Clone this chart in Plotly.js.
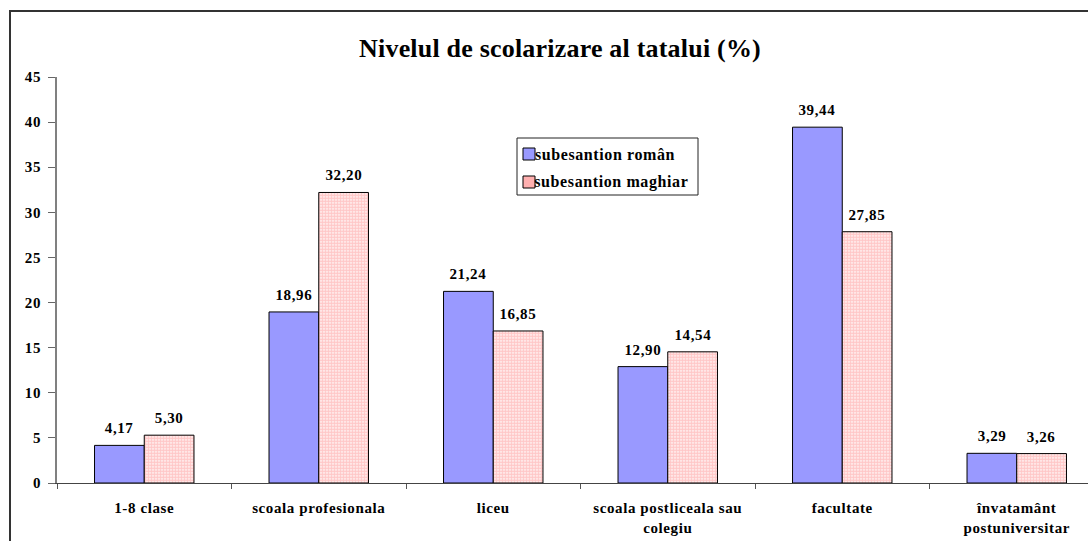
<!DOCTYPE html>
<html>
<head>
<meta charset="utf-8">
<script src="https://cdn.plot.ly/plotly-3.0.1.min.js"></script>
<style>
html,body{margin:0;padding:0;overflow:hidden;background:#fff;width:1088px;height:541px;}
#chart{width:1120px;height:541px;}
#chart text{letter-spacing:0.6px;}
#chart .gtitle{letter-spacing:0.2px;}
</style>
</head>
<body>
<div id="chart"></div>
<script>
var categories = ["1-8 clase", "scoala profesionala", "liceu", "scoala postliceala sau<br>colegiu", "facultate", "învatamânt<br>postuniversitar"];
var roman = [4.17, 18.96, 21.24, 12.90, 39.44, 3.29];
var maghiar = [5.30, 32.20, 16.85, 14.54, 27.85, 3.26];
var seriesNames = ["subesantion român", "subesantion maghiar"];
var yTicks = [0, 5, 10, 15, 20, 25, 30, 35, 40, 45];
var colors = ["#9999ff", "#ff9090"];

function fmt(v){ return v.toFixed(2).replace('.', ','); }

var FONT = 'Liberation Serif, Times New Roman, serif';

var traces = [
  {
    type: 'bar', x: categories, y: roman, name: seriesNames[0], showlegend: false,
    marker: {color: colors[0], line: {color: '#000', width: 1}}
  },
  {
    type: 'bar', x: categories, y: maghiar, name: seriesNames[1], showlegend: false,
    marker: {color: '#ffffff', line: {color: '#000', width: 1},
      pattern: {shape: '.', size: 3, solidity: 0.78, fgcolor: colors[1], bgcolor: '#ffffff', fillmode: 'overlay'}}
  }
];

var W = 1120, L = 57, R = 16, T = 77, B = 58;
var pw = W - L - R, ph = 541 - T - B;
function px2x(p){ return (p - L) / pw; }
function py2y(p){ return (541 - B - p) / ph; }

var valFont = {family: FONT, size: 15, color: '#000', weight: 'bold'};
var annotations = [];
var series = [roman, maghiar];
var shifts = [-25, 25];
series.forEach(function(vals, s){
  vals.forEach(function(v, i){
    annotations.push({xref: 'x', yref: 'y', x: categories[i], y: v, text: fmt(v), showarrow: false,
      xanchor: 'center', yanchor: 'bottom', xshift: shifts[s], yshift: 7, font: valFont});
  });
});

// custom legend
var legX = 517, legY = 138, legW = 181, legH = 57;
var itemY = [154, 182];
var shapes = [
  {type: 'rect', xref: 'paper', yref: 'paper', x0: px2x(10), x1: px2x(1200), y0: py2y(800), y1: py2y(11),
   line: {color: '#333', width: 2}, fillcolor: 'rgba(0,0,0,0)', layer: 'below'},
  {type: 'rect', xref: 'paper', yref: 'paper', x0: px2x(legX), x1: px2x(legX + legW), y0: py2y(legY + legH), y1: py2y(legY),
   line: {color: '#222', width: 1}, fillcolor: '#fff', layer: 'above'}
];
seriesNames.forEach(function(n, k){
  shapes.push({type: 'rect', xref: 'paper', yref: 'paper', x0: px2x(523), x1: px2x(535),
    y0: py2y(itemY[k] + 6), y1: py2y(itemY[k] - 6), line: {color: '#000', width: 1},
    fillcolor: k === 0 ? colors[0] : '#ffb0b0', layer: 'above'});
  annotations.push({xref: 'paper', yref: 'paper', x: px2x(538), y: py2y(itemY[k]), text: n, showarrow: false,
    xanchor: 'left', yanchor: 'middle', font: {family: FONT, size: 16, weight: 'bold', color: '#000'}});
});

annotations.push({text: 'g', xref: 'paper', yref: 'paper', x: px2x(28), y: py2y(-14), xanchor: 'center', yanchor: 'middle',
  showarrow: false, font: {family: FONT, size: 26, color: '#000'}});

var layout = {
  width: W, height: 541,
  margin: {l: L, r: R, t: T, b: B, pad: 0},
  paper_bgcolor: '#fff', plot_bgcolor: '#fff',
  font: {family: FONT, color: '#000', size: 15},
  barmode: 'group', bargap: 0.43, bargroupgap: 0,
  showlegend: false,
  title: {text: 'Nivelul de scolarizare al tatalui (%)', xref: 'container', x: 560 / W, xanchor: 'center',
          yref: 'container', y: 1 - 48 / 541, yanchor: 'middle',
          font: {family: FONT, size: 26, weight: 'bold', color: '#000'}},
  xaxis: {
    type: 'category', tickson: 'boundaries', ticks: 'outside', ticklen: 5, tickcolor: '#555', tickwidth: 1,
    showline: true, linecolor: '#444', linewidth: 1, showgrid: false, zeroline: false,
    ticklabelstandoff: 11,
    tickfont: {family: FONT, size: 15, weight: 'bold', color: '#000'}
  },
  yaxis: {
    range: [0, 45], tickvals: yTicks, ticktext: yTicks.map(String), ticks: 'outside', ticklen: 7,
    tickcolor: '#666', tickwidth: 1, showline: true, linecolor: '#808080', linewidth: 2,
    showgrid: false, zeroline: false, ticklabelstandoff: 4,
    tickfont: {family: FONT, size: 15, weight: 'bold', color: '#000'}
  },
  shapes: shapes,
  annotations: annotations
};

Plotly.newPlot('chart', traces, layout, {displayModeBar: false, staticPlot: true});
</script>
</body>
</html>
